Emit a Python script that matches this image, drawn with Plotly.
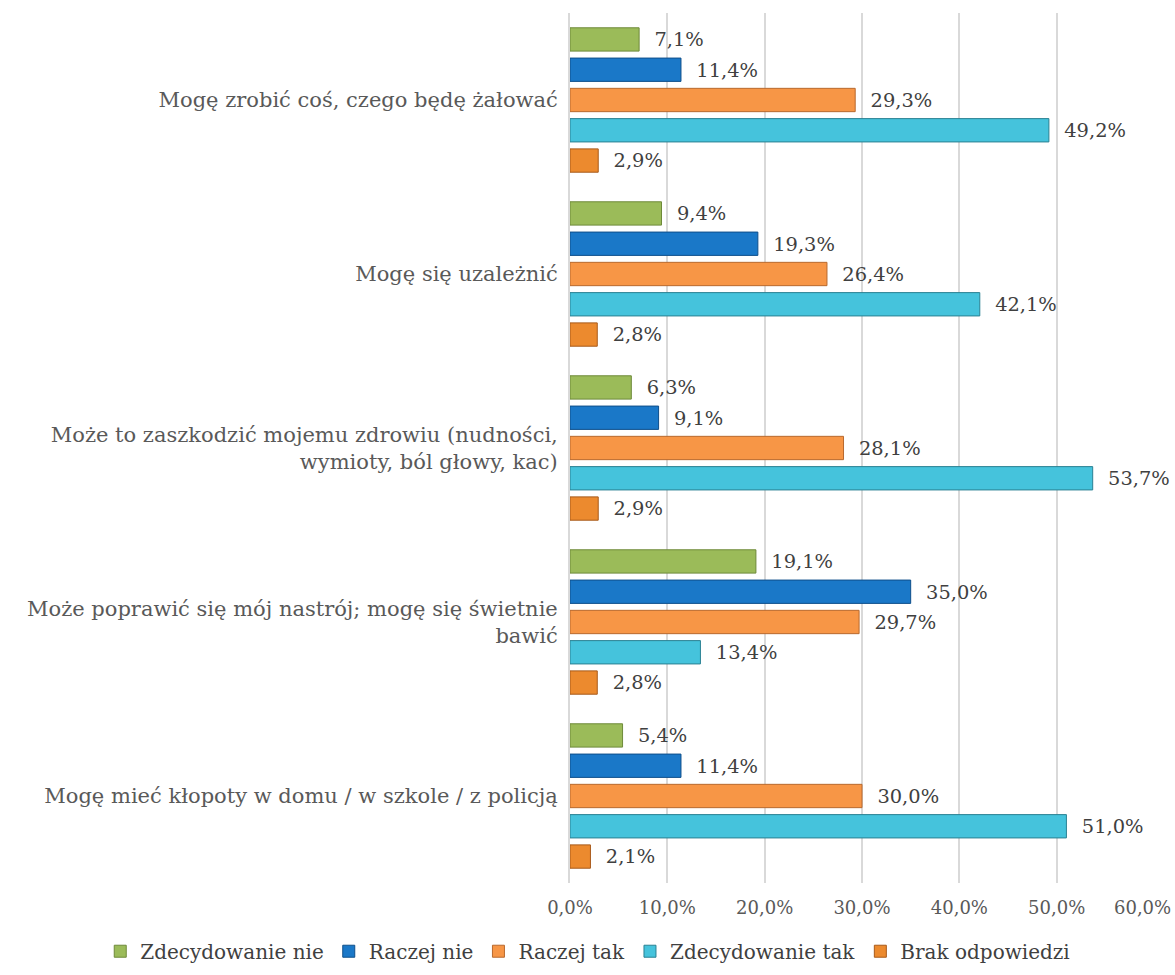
import plotly.graph_objects as go

categories = [
    "Mogę zrobić coś, czego będę żałować",
    "Mogę się uzależnić",
    "Może to zaszkodzić mojemu zdrowiu (nudności,<br>wymioty, ból głowy, kac)",
    "Może poprawić się mój nastrój; mogę się świetnie<br>bawić",
    "Mogę mieć kłopoty w domu / w szkole / z policją",
]
series_names = ["Zdecydowanie nie", "Raczej nie", "Raczej tak", "Zdecydowanie tak", "Brak odpowiedzi"]
zdecydowanie_nie = [7.1, 9.4, 6.3, 19.1, 5.4]
raczej_nie = [11.4, 19.3, 9.1, 35.0, 11.4]
raczej_tak = [29.3, 26.4, 28.1, 29.7, 30.0]
zdecydowanie_tak = [49.2, 42.1, 53.7, 13.4, 51.0]
brak_odpowiedzi = [2.9, 2.8, 2.9, 2.8, 2.1]
tick_vals = [0, 10, 20, 30, 40, 50, 60]
tick_text = ["0,0%", "10,0%", "20,0%", "30,0%", "40,0%", "50,0%", "60,0%\u00a0\u00a0\u00a0\u00a0"]

series = [zdecydowanie_nie, raczej_nie, raczej_tak, zdecydowanie_tak, brak_odpowiedzi]
colors = ["#9BBB59", "#1A78C8", "#F79646", "#45C3DC", "#EC8A2E"]
edges = ["#6E8A3A", "#0F4F8A", "#B8692E", "#2A8193", "#A85A1A"]

FONT = "DejaVu Serif"

fig = go.Figure()
for name, vals, col, edge in zip(series_names, series, colors, edges):
    fig.add_trace(go.Bar(
        y=categories, x=vals, name=name, orientation="h",
        marker=dict(color=col, line=dict(color=edge, width=1)),
        text=[("  %.1f%%" % v).replace(".", ",") for v in vals],
        textposition="outside", cliponaxis=False,
        textfont=dict(family=FONT, size=20, color="#404040"),
    ))

fig.update_layout(
    width=1175, height=975,
    barmode="group", bargap=0.13, bargroupgap=0.23,
    plot_bgcolor="white", paper_bgcolor="white",
    font=dict(family=FONT, size=20, color="#404040"),
    margin=dict(l=570, r=20, t=13, b=92, autoexpand=False),
    showlegend=True,
    # x < 0 so the legend may use the whole width in one row
    legend=dict(orientation="h", xref="paper", x=-0.803, xanchor="left",
                y=-0.056, yanchor="top",
                font=dict(family=FONT, size=20, color="#404040"), itemwidth=30,
                tracegroupgap=0),
)
fig.update_xaxes(range=[0, 60.1], tickvals=tick_vals, ticktext=tick_text,
                 showgrid=True, gridcolor="#D9D9D9", gridwidth=2, zeroline=False,
                 automargin=False, ticklabeloverflow="allow", ticklabelstandoff=12,
                 tickfont=dict(family=FONT, size=18, color="#595959"))
fig.update_yaxes(autorange="reversed", showline=True, linecolor="#D9D9D9", linewidth=2,
                 ticks="", ticklabelstandoff=6, automargin=False,
                 tickfont=dict(family=FONT, size=21, color="#595959"))

# drop the default body margin so the chart sits at the page corner
fig.write_html("out.html", config={"displayModeBar": False},
               post_script="document.body.style.margin='0';")
